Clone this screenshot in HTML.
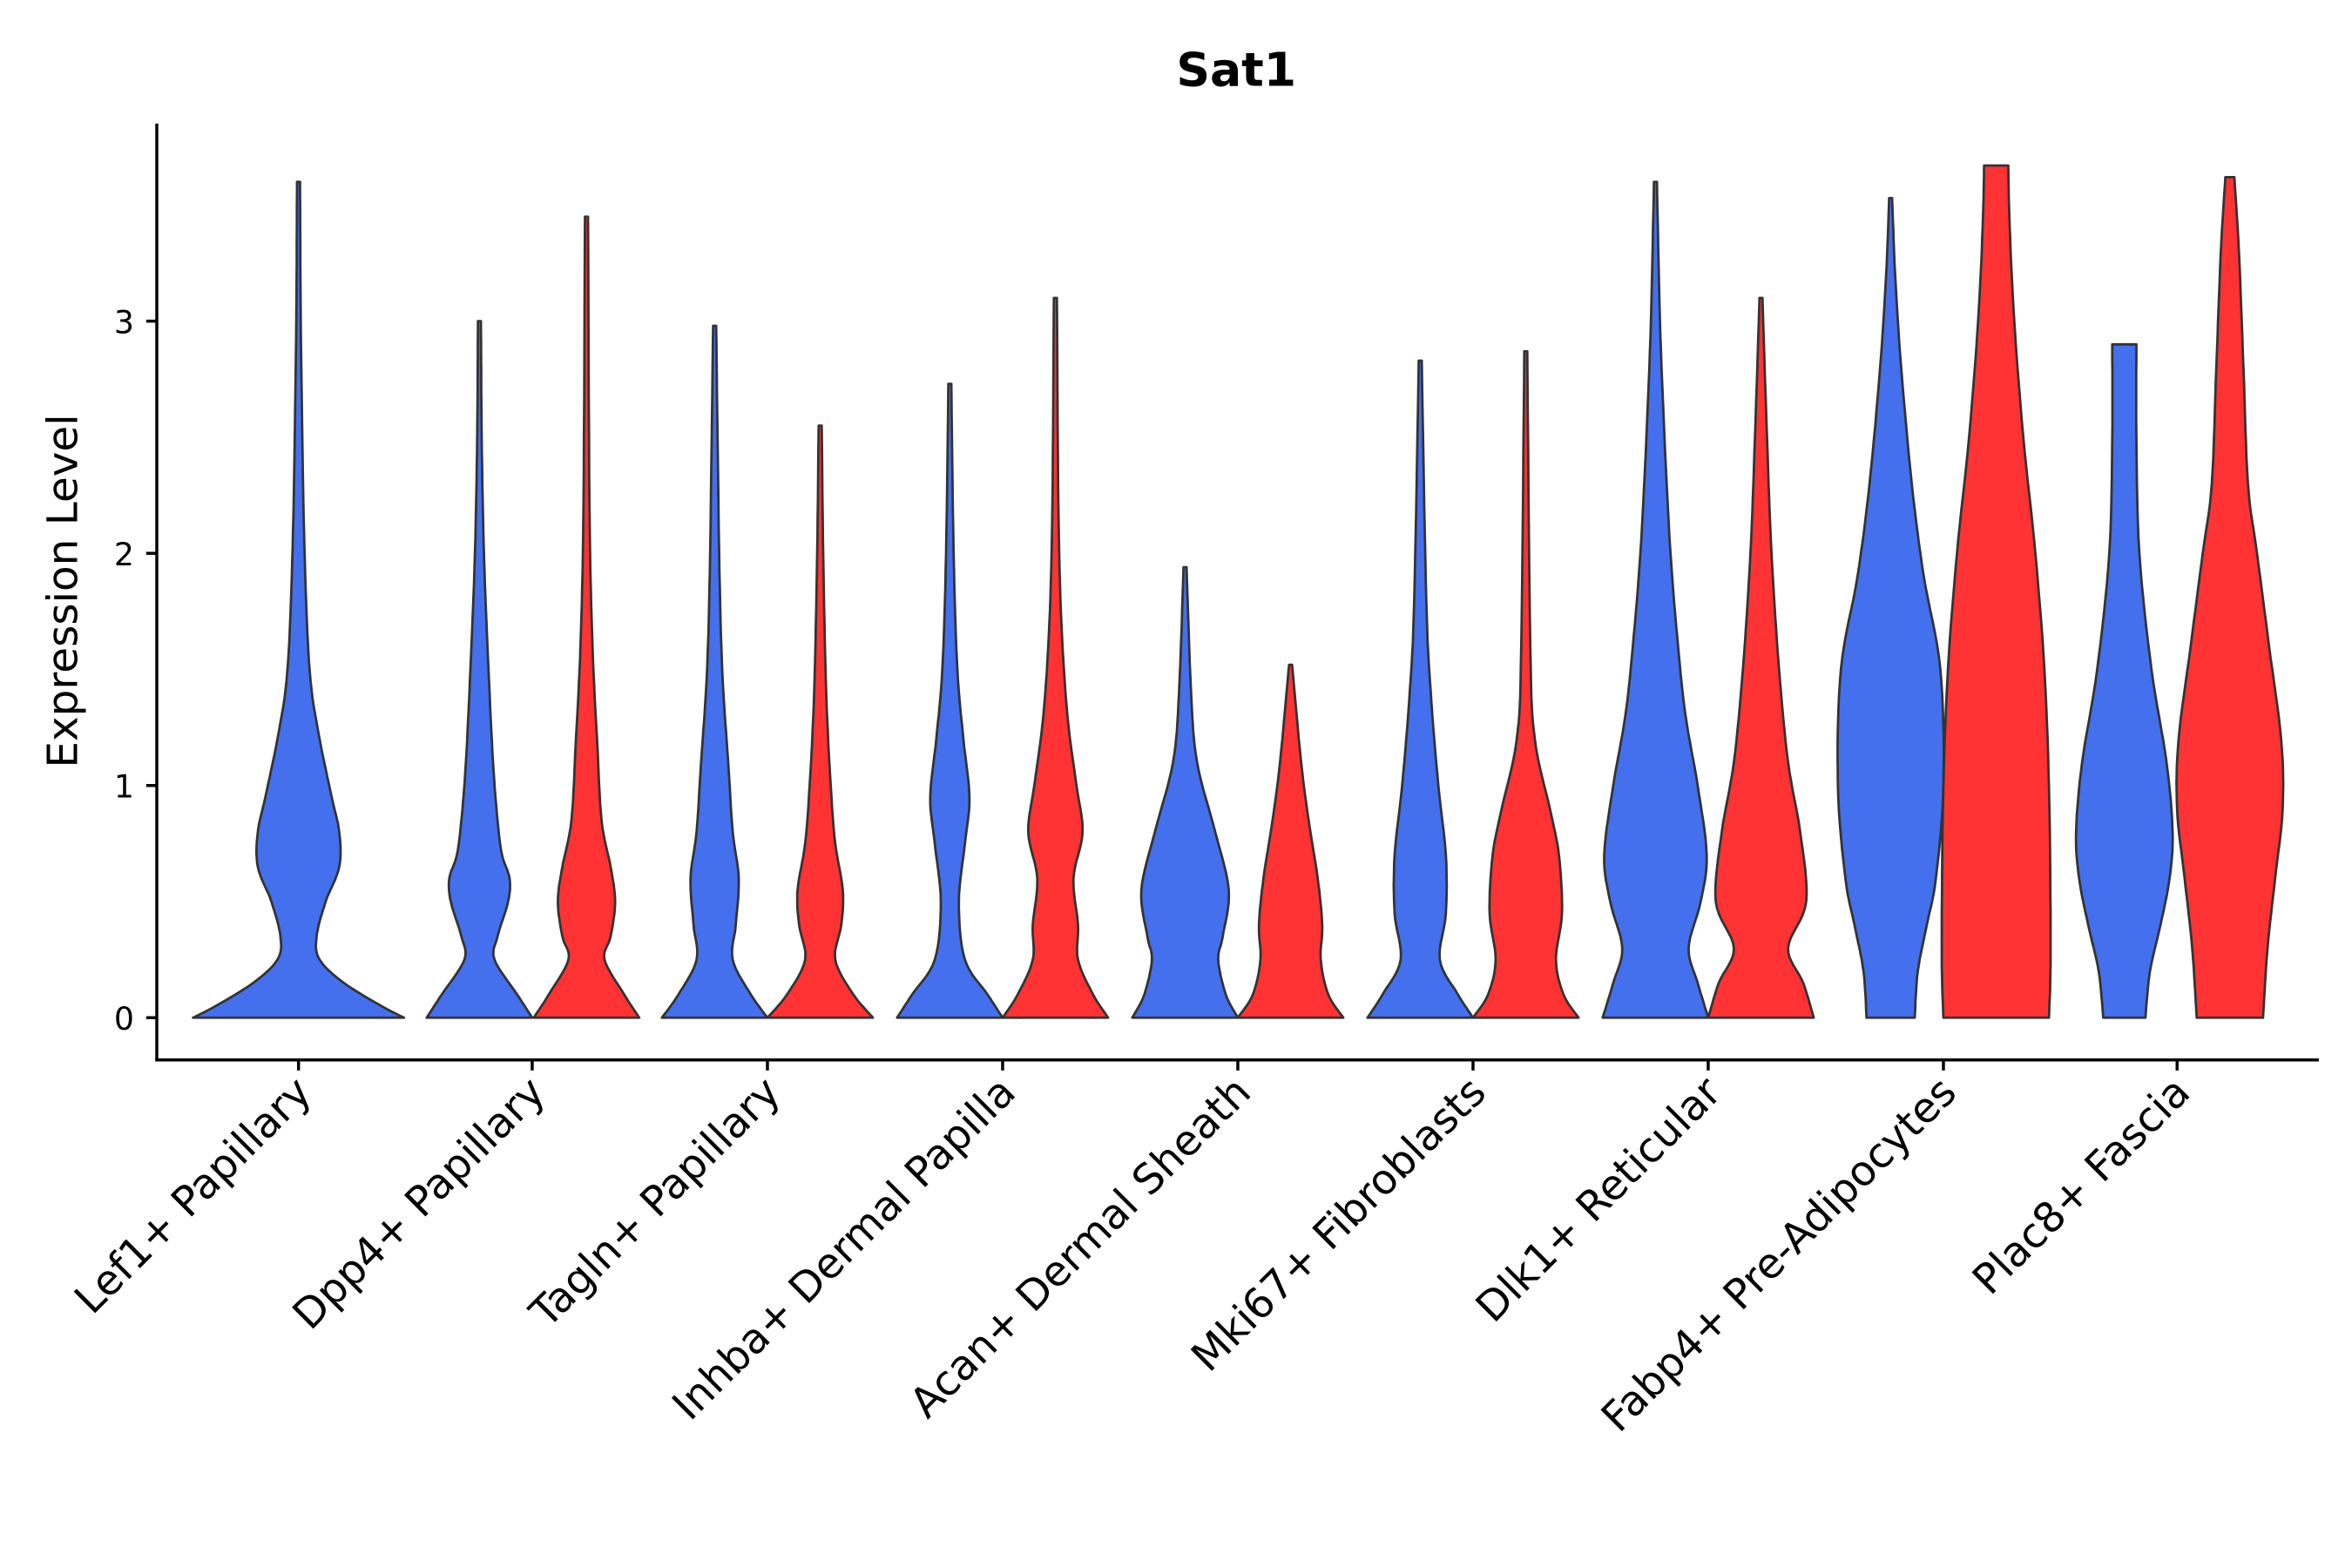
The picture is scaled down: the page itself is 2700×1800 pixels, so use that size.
<!DOCTYPE html>
<html><head><meta charset="utf-8"><style>html,body{margin:0;padding:0;background:#fff}svg{display:block}</style></head>
<body>
<svg id="s" xmlns="http://www.w3.org/2000/svg" width="2700" height="1800" viewBox="0 0 1560 1040" font-family="'DejaVu Sans', 'Liberation Sans', sans-serif">
<rect width="1560" height="1040" fill="#fff"/>
<g id="v"></g>
<text x="820" y="57" font-size="31" font-weight="bold" text-anchor="middle">Sat1</text>
<text transform="translate(51,392) rotate(-90)" font-size="28" text-anchor="middle">Expression Level</text>
<line x1="104" y1="82" x2="104" y2="704" stroke="#000" stroke-width="2"/>
<line x1="103" y1="703" x2="1538" y2="703" stroke="#000" stroke-width="2"/>
<g font-size="21" text-anchor="end">
<line x1="97" y1="675" x2="104" y2="675" stroke="#000" stroke-width="2"/><text x="89" y="683">0</text>
<line x1="97" y1="521" x2="104" y2="521" stroke="#000" stroke-width="2"/><text x="89" y="529">1</text>
<line x1="97" y1="367" x2="104" y2="367" stroke="#000" stroke-width="2"/><text x="89" y="375">2</text>
<line x1="97" y1="213" x2="104" y2="213" stroke="#000" stroke-width="2"/><text x="89" y="221">3</text>
</g>
<g id="xl" font-size="27.5" text-anchor="end"></g>
</svg>
<script>
var Y=function(v){return 675-154*v;};
var V=[
[198,'#4470EE',[[0,70],[0.05,55],[0.15,30],[0.25,14],[0.35,12],[0.5,18],[0.65,27],[0.8,27],[0.95,22],[1.2,14],[1.45,8],[1.8,5],[2.3,3],[3,1.5],[3.6,1]]],
[318,'#4470EE',[[0,35],[0.1,25],[0.25,10],[0.35,12],[0.5,19],[0.6,20],[0.7,15],[0.85,12],[1.1,9],[1.5,6],[2,3],[2.5,1.5],[3,1]]],
[389,'#FF3333',[[0,35],[0.1,25],[0.25,12],[0.35,16],[0.5,19],[0.65,16],[0.85,10],[1.2,7],[1.6,4],[2.2,2],[3.45,1]]],
[474,'#4470EE',[[0,35],[0.1,24],[0.25,12],[0.4,14],[0.6,16],[0.8,12],[1.1,9],[1.5,5],[2,3],[2.98,1]]],
[544,'#FF3333',[[0,35],[0.1,22],[0.25,10],[0.4,14],[0.55,15],[0.75,10],[1,7],[1.4,4],[2,2],[2.55,1]]],
[630,'#4470EE',[[0,35],[0.1,25],[0.25,10],[0.5,6],[0.75,10],[0.95,13],[1.2,9],[1.5,5],[2,2.5],[2.73,1]]],
[700,'#FF3333',[[0,35],[0.1,25],[0.25,15],[0.4,15],[0.6,12],[0.8,18],[1,14],[1.3,8],[1.7,4],[2.2,2],[3.1,1]]],
[786,'#4470EE',[[0,35],[0.1,27],[0.25,22],[0.35,25],[0.55,29],[0.8,20],[1.1,8],[1.4,4],[1.94,1]]],
[856,'#FF3333',[[0,35],[0.1,25],[0.25,20],[0.4,21],[0.6,18],[0.85,12],[1.1,7],[1.52,1]]],
[942,'#4470EE',[[0,35],[0.1,25],[0.25,13],[0.45,17],[0.7,17],[1,12],[1.4,7],[1.8,4],[2.83,1]]],
[1012,'#FF3333',[[0,35],[0.1,25],[0.25,20],[0.45,24],[0.7,22],[0.9,16],[1.2,6],[1.6,3],[2.87,1]]],
[1098,'#4470EE',[[0,35],[0.15,28],[0.3,22],[0.5,30],[0.7,34],[1,28],[1.3,20],[1.6,15],[2,10],[2.5,6],[3,3],[3.6,1]]],
[1168,'#FF3333',[[0,35],[0.15,28],[0.3,18],[0.5,30],[0.8,26],[1.1,18],[1.5,12],[2,7],[2.5,4],[3.1,1]]],
[1254,'#4470EE',[[0,16],[0.2,18],[0.4,24],[0.6,30],[1,35],[1.5,33],[1.9,22],[2.3,14],[2.8,7],[3.2,3],[3.53,1]]],
[1324,'#FF3333',[[0,35],[0.2,36],[0.5,36],[1,35],[1.5,32],[2,26],[2.5,18],[3,12],[3.4,9],[3.67,8]]],
[1409,'#4470EE',[[0,14],[0.2,17],[0.4,24],[0.6,30],[0.8,32],[1.1,28],[1.5,18],[2,10],[2.5,8],[2.9,8]]],
[1479,'#FF3333',[[0,22],[0.3,25],[0.6,30],[0.9,35],[1.2,34],[1.6,26],[2,18],[2.3,12],[2.8,9],[3.3,6],[3.62,3]]]
];
function interp(p){var o=[];for(var i=0;i<p.length-1;i++){var a=p[i],b=p[i+1],n=8;for(var k=0;k<n;k++){var t=k/n,p0=p[Math.max(i-1,0)],p3=p[Math.min(i+2,p.length-1)];
var t2=t*t,t3=t2*t;var f=function(q0,q1,q2,q4){return 0.5*((2*q1)+(-q0+q2)*t+(2*q0-5*q1+4*q2-q4)*t2+(-q0+3*q1-3*q2+q4)*t3);};
o.push([f(p0[0],a[0],b[0],p3[0]),Math.max(0.5,f(p0[1],a[1],b[1],p3[1]))]);}}o.push(p[p.length-1]);return o;}
var g=document.getElementById('v'),h='';
V.forEach(function(d){var c=d[0],pts=interp(d[2]),r=[],l=[];pts.forEach(function(q){r.push((c+q[1]).toFixed(1)+','+Y(q[0]).toFixed(1));l.unshift((c-q[1]).toFixed(1)+','+Y(q[0]).toFixed(1));});
h+='<polygon points="'+r.concat(l).join(' ')+'" fill="'+d[1]+'" stroke="#333" stroke-width="1.6" stroke-linejoin="round"/>';});
g.innerHTML=h;
var L=['Lef1+ Papillary','Dpp4+ Papillary','Tagln+ Papillary','Inhba+ Dermal Papilla','Acan+ Dermal Sheath','Mki67+ Fibroblasts','Dlk1+ Reticular','Fabp4+ Pre-Adipocytes','Plac8+ Fascia'];
var xs=[198,353,509,665,821,977,1133,1289,1444],s='';
L.forEach(function(t,i){s+='<line x1="'+xs[i]+'" y1="703" x2="'+xs[i]+'" y2="710" stroke="#000" stroke-width="2"/><text transform="translate('+(xs[i]+10)+',726) rotate(-45)">'+t+'</text>';});
document.getElementById('xl').innerHTML=s;
</script>
</body></html>
